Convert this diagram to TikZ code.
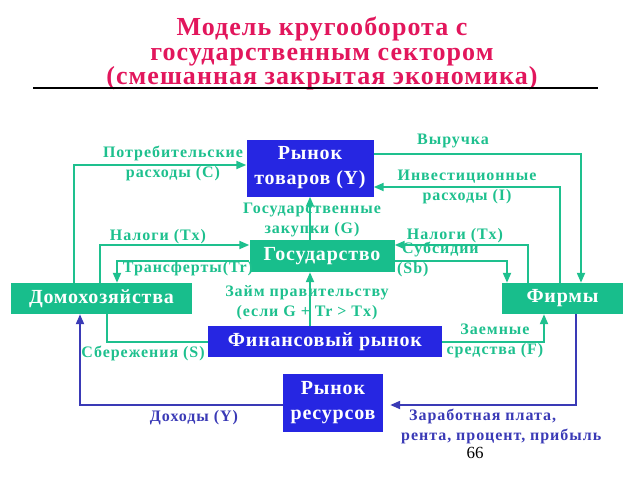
\documentclass[tikz,border=0pt]{standalone}
\usepackage{fontspec}
\setmainfont{Liberation Serif}
\newfontfamily\titlefont{Liberation Serif}[LetterSpace=4]
\newfontfamily\boxfont{Liberation Serif}[LetterSpace=4]
\newfontfamily\lblfont{Liberation Serif}[LetterSpace=6]
\usetikzlibrary{arrows.meta}

\definecolor{boxgreen}{RGB}{24,190,140}
\definecolor{flowgreen}{RGB}{30,192,142}
\definecolor{boxblue}{RGB}{38,38,226}
\definecolor{flowblue}{RGB}{58,58,182}
\definecolor{titlered}{RGB}{226,22,92}

\begin{document}
\begin{tikzpicture}[
        x=1pt, y=-1pt,
    ]

    \tikzstyle{greenbox} = [rectangle, fill=boxgreen, text=white, inner sep=0pt,
                            font=\boxfont\fontsize{20}{22}\selectfont\bfseries]
    \tikzstyle{bluebox} = [rectangle, fill=boxblue, text=white, inner sep=0pt,
                           align=center, font=\boxfont\fontsize{20}{25}\selectfont\bfseries]
    \tikzstyle{flow} = [draw=flowgreen, line width=2pt, -{Triangle[length=10pt,width=8pt]}]
    \tikzstyle{income} = [draw=flowblue, line width=2pt, -{Triangle[length=10pt,width=8pt]}]
    \tikzstyle{lbl} = [text=flowgreen, inner sep=0pt, align=center,
                       font=\lblfont\fontsize{16}{20}\selectfont\bfseries]
    \tikzstyle{bluelbl} = [lbl, text=flowblue]

    \useasboundingbox (0,0) rectangle (640,480);

    % Title
    \node[text=titlered, align=center, inner sep=0pt,
          font=\titlefont\fontsize{26}{24.5}\selectfont\bfseries] (title) at (322,53.5)
        {Модель кругооборота с\\государственным сектором\\(смешанная закрытая экономика)};
    \draw[line width=2pt] (33,88) -- (598,88);

    % Nodes
    \node[bluebox, minimum width=127pt, minimum height=57pt] (goods) at (310,168) {Рынок\\товаров (Y)};
    \node[greenbox, minimum width=145pt, minimum height=32pt] (gov) at (322,256) {Государство};
    \node[greenbox, minimum width=181pt, minimum height=31pt] (hh) at (101.5,298.5) {Домохозяйства};
    \node[greenbox, minimum width=121pt, minimum height=31pt] (firms) at (562.5,298.5) {Фирмы};
    \node[bluebox, minimum width=234pt, minimum height=31pt] (fin) at (325,341.5) {Финансовый рынок};
    \node[bluebox, minimum width=100pt, minimum height=58pt] (res) at (333,403) {Рынок\\ресурсов};

    % Arrows
    \draw[flow] ([xshift=-27.5pt]hh.north) |- ([yshift=3pt]goods.west);
    \draw[flow] ([yshift=14pt]goods.east) -| ([xshift=18.5pt]firms.north);
    \draw[flow] ([xshift=-2.5pt]firms.north) |- ([yshift=-19pt]goods.east);
    \draw[flow] (gov.north -| goods.south) -- (goods.south);
    \draw[flow] ([xshift=-1.5pt]hh.north) |- ([yshift=11pt]gov.west);
    \draw[flow] ([yshift=-5pt]gov.west) -| ([xshift=15.5pt]hh.north);
    \draw[flow] ([xshift=-34.5pt]firms.north) |- ([yshift=11pt]gov.east);
    \draw[flow] ([yshift=-4.5pt]gov.east) -| ([xshift=-55.5pt]firms.north);
    \draw[flow] (fin.north -| goods.south) -- (gov.south -| goods.south);
    \draw[draw=flowgreen, line width=2pt] ([xshift=5.5pt]hh.south) |- (fin.west);
    \draw[flow] (fin.east) -| ([xshift=-18.5pt]firms.south);
    \draw[income] ([yshift=-2pt]res.west) -| ([xshift=-21.5pt]hh.south);
    \draw[income] ([xshift=13.5pt]firms.south) |- ([xshift=7pt,yshift=-2pt]res.east);

    % Labels
    \node[lbl] (lc) at (173,163) {Потребительские\\расходы  (C)};
    \node[lbl] (lrev) at (453,141) {Выручка};
    \node[lbl] (li) at (467,187) {Инвестиционные\\расходы (I)};
    \node[lbl] (lg) at (312,220) {Государственные\\закупки (G)};
    \node[lbl] (ltxh) at (158,237) {Налоги (Tx)};
    \node[lbl] (ltr) at (188,269) {Трансферты(Tr)};
    \node[lbl] (ltxf) at (455,236) {Налоги (Tx)};
    \node[lbl, anchor=west, align=left] (lsb) at (397,259) {\hspace*{5pt}Субсидии\\(Sb)};
    \node[lbl] (lloan) at (307,303) {Займ правительству\\(если G + Tr > Tx)};
    \node[lbl] (ls) at (143,353) {Сбережения (S)};
    \node[lbl] (lf) at (495,341) {Заемные\\средства (F)};
    \node[bluelbl] (ly) at (194,418) {Доходы (Y)};
    \node[bluelbl, anchor=west, align=left] (lw) at (401,426)
        {\hspace*{8pt}Заработная плата,\\рента, процент, прибыль};
    \node[inner sep=0pt, font=\fontsize{17}{17}\selectfont] (page) at (475,453) {66};

\end{tikzpicture}
\end{document}
